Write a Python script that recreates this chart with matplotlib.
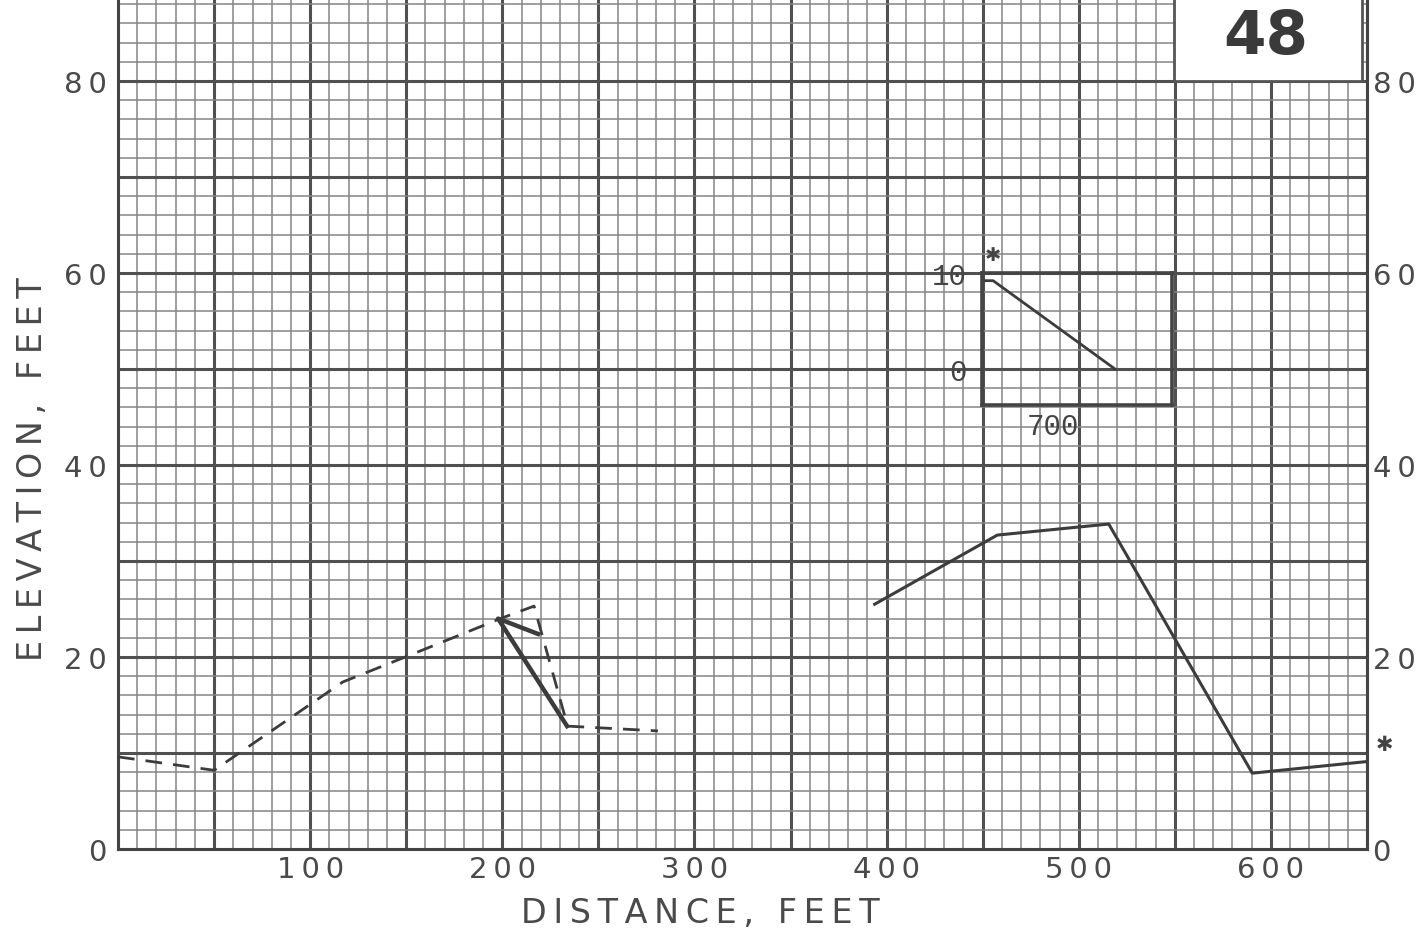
import matplotlib
matplotlib.use("Agg")
import matplotlib.pyplot as plt
from matplotlib.ticker import MultipleLocator, FuncFormatter
from matplotlib.patches import Rectangle

# ---- profile data (distance / elevation in feet) ----
ground_dist = [0, 50, 117, 152, 199, 216.5, 234, 281]
ground_elev = [9.6, 8.2, 17.4, 20.2, 24.0, 25.3, 12.8, 12.3]

slide_dist = [218.6, 197.8, 233.7]
slide_elev = [22.4, 24.0, 12.8]

profile_dist = [393.8, 457.6, 515.6, 590.3, 649.5]
profile_elev = [25.5, 32.7, 33.85, 7.9, 9.1]

# small location sketch
inset_dist = [0, 58, 700]
inset_elev = [9.2, 9.2, 0]
inset_ticks = [0, 10]
inset_tick_labels = ["0", "10"]
inset_note = "700"

x_label_values = [100, 200, 300, 400, 500, 600]
y_label_values = [0, 20, 40, 60, 80]
sheet_number = "48"

INK = "#3c3c3c"
TICK_INK = "#4a4a4a"
SP = "\u2009"


def spaced(s):
    return SP.join(s)


fig = plt.figure(figsize=(14.27, 9.37), dpi=100)
fig.patch.set_facecolor("white")
ax = fig.add_axes([118 / 1427, 87 / 937, 1249 / 1427, 850 / 937])
ax.set_xlim(0, 650)
ax.set_ylim(0, 850 / 9.6)

# graph-paper grid
ax.xaxis.set_major_locator(MultipleLocator(50))
ax.xaxis.set_minor_locator(MultipleLocator(10))
ax.yaxis.set_major_locator(MultipleLocator(10))
ax.yaxis.set_minor_locator(MultipleLocator(2))
ax.set_axisbelow(True)
ax.grid(which="major", color="#505050", lw=2.2)
ax.grid(which="minor", color="#858585", lw=1.1)


def x_fmt(v, pos):
    iv = int(round(v))
    return spaced(str(iv)) if iv in x_label_values else ""


def y_fmt(v, pos):
    iv = int(round(v))
    return spaced(str(iv)) if iv in y_label_values else ""


ax.xaxis.set_major_formatter(FuncFormatter(x_fmt))
ax.yaxis.set_major_formatter(FuncFormatter(y_fmt))
ax.tick_params(which="both", length=0)
ax.tick_params(axis="x", pad=4, labelsize=21, labelcolor=TICK_INK)
ax.tick_params(axis="y", pad=8, labelsize=21, labelcolor=TICK_INK)

sec = ax.secondary_yaxis("right")
sec.yaxis.set_major_locator(MultipleLocator(10))
sec.yaxis.set_major_formatter(FuncFormatter(y_fmt))
sec.tick_params(length=0, pad=4, labelsize=21, labelcolor=TICK_INK)
sec.spines["right"].set_visible(False)

for side in ("left", "bottom", "right"):
    ax.spines[side].set_color("#444444")
    ax.spines[side].set_linewidth(2.2)
ax.spines["top"].set_visible(False)

# profiles
ax.plot(ground_dist, ground_elev, color=INK, lw=2.0, ls=(0, (6, 4)), zorder=3)
ax.plot(slide_dist, slide_elev, color=INK, lw=3.2, solid_joinstyle="round", zorder=4)
ax.plot(profile_dist, profile_elev, color=INK, lw=2.2, zorder=3)

# sheet number box
ax.add_patch(Rectangle((549.6, 80), 97.8, 10, facecolor="white",
                       edgecolor="#555555", lw=2.0, zorder=2.5))
ax.text(597.5, 84.6, sheet_number, ha="center", va="center", fontsize=44,
        fontweight="bold", color="#3a3a3a", zorder=5)

# marker beside the right axis
ax.text(1.014, 10.9, "\u2731", transform=ax.get_yaxis_transform(),
        ha="center", va="center", fontsize=15, color="#444444")

# location sketch
axin = ax.inset_axes([449.7, 46.25, 98.8, 13.75], transform=ax.transData)
axin.set_facecolor("none")
axin.set_xlim(0, 1000)
axin.set_ylim(-3.75, 10)
axin.set_xticks([])
axin.set_yticks(inset_ticks)
axin.set_yticklabels(inset_tick_labels, family="Liberation Mono", fontsize=21,
                     color="#444444")
axin.tick_params(length=0, pad=11)
for sp in axin.spines.values():
    sp.set_linewidth(2.6)
    sp.set_color("#444444")
axin.plot(inset_dist, inset_elev, color=INK, lw=2.0)
axin.text(58, 11.9, "\u2731", ha="center", va="center", fontsize=14,
          color="#444444", clip_on=False)
axin.text(0.375, -0.16, inset_note, transform=axin.transAxes, ha="center",
          va="center", family="Liberation Mono", fontsize=21, color="#444444")

# axis titles
fig.text(700 / 1427, 23 / 937, spaced("DISTANCE, FEET"), ha="center",
         va="center", fontsize=24, color=TICK_INK)
fig.text(33 / 1427, 468 / 937, spaced("ELEVATION, FEET"), ha="center",
         va="center", rotation=90, fontsize=24, color=TICK_INK)

fig.savefig("out.png", dpi=100)
